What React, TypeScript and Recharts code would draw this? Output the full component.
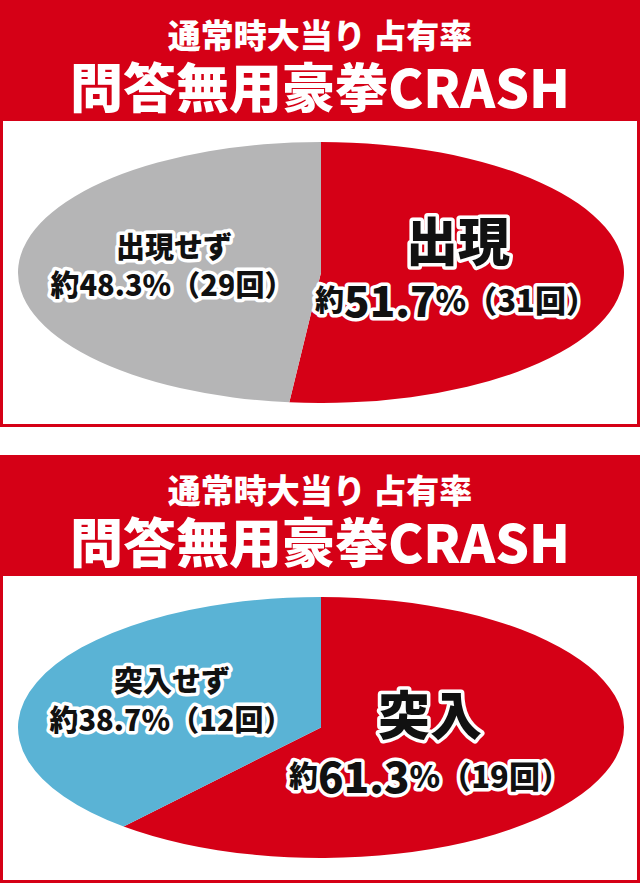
import { PieChart, Pie, Cell } from 'recharts';

const TITLE_SUB = '通常時大当り 占有率';
const TITLE_MAIN = '問答無用豪拳CRASH';

// panel 1: 出現 / 出現せず
const appearNames = ['出現', '出現せず'];
const appearCounts = [31, 29];
const appearColors = ['#D50016', '#B5B5B6'];

// panel 2: 突入 / 突入せず
const rushNames = ['突入', '突入せず'];
const rushCounts = [19, 12];
const rushColors = ['#D50016', '#5AB3D5'];

const RED = '#D50016';
const FONT = "'Noto Sans CJK JP', 'Noto Sans', sans-serif";

const PIE_SIZE = 606;
const ELLIPSE_H = 261;

const pct = (v: number, total: number) => ((v / total) * 100).toFixed(1);

type LabelPos = { big: [number, number]; bigPct: [number, number]; small: [number, number]; smallPct: [number, number] };

const outline = {
  stroke: '#fff',
  strokeWidth: 7,
  strokeLinejoin: 'round' as const,
  paintOrder: 'stroke' as const,
};

function Panel({
  top,
  height,
  names,
  counts,
  colors,
  pos,
}: {
  top: number;
  height: number;
  names: string[];
  counts: number[];
  colors: string[];
  pos: LabelPos;
}) {
  const data = names.map((name, i) => ({ name, value: counts[i] }));
  const total = counts.reduce((a, b) => a + b, 0);

  return (
    <div style={{ position: 'absolute', left: 0, top, width: 640, height, background: RED }}>
      <div style={{ position: 'absolute', left: 3, top: 121, width: 634, height: height - 124, background: '#fff' }} />
      {/* circular pie squashed into an ellipse */}
      <div
        style={{
          position: 'absolute',
          left: 18,
          top: 142,
          width: PIE_SIZE,
          height: PIE_SIZE,
          transform: `scaleY(${ELLIPSE_H / PIE_SIZE})`,
          transformOrigin: 'top left',
        }}
      >
        <PieChart width={PIE_SIZE} height={PIE_SIZE} margin={{ top: 0, right: 0, bottom: 0, left: 0 }}>
          <Pie
            data={data}
            dataKey="value"
            nameKey="name"
            cx="50%"
            cy="50%"
            outerRadius={PIE_SIZE / 2}
            startAngle={90}
            endAngle={-270}
            stroke="none"
            isAnimationActive={false}
          >
            {data.map((d, i) => (
              <Cell key={d.name} fill={colors[i]} />
            ))}
          </Pie>
        </PieChart>
      </div>
      <svg
        width={640}
        height={height}
        style={{ position: 'absolute', left: 0, top: 0, fontFamily: FONT, fontWeight: 900 }}
      >
        <text x={320} y={34} textAnchor="middle" dominantBaseline="central" fill="#fff" fontSize={33}>
          {TITLE_SUB}
        </text>
        <text x={320} y={85} textAnchor="middle" dominantBaseline="central" fill="#fff" fontSize={53}>
          {TITLE_MAIN}
        </text>

        <text x={pos.big[0]} y={pos.big[1]} textAnchor="middle" dominantBaseline="central" fill="#111" fontSize={52} {...outline}>
          {names[0]}
        </text>
        <text x={pos.bigPct[0]} y={pos.bigPct[1]} textAnchor="middle" dominantBaseline="central" fill="#111" {...outline}>
          <tspan fontSize={29}>約</tspan>
          <tspan fontSize={42}>{pct(counts[0], total)}</tspan>
          <tspan fontSize={31}>%（{counts[0]}回）</tspan>
        </text>

        <text x={pos.small[0]} y={pos.small[1]} textAnchor="middle" dominantBaseline="central" fill="#111" fontSize={29} {...outline}>
          {names[1]}
        </text>
        <text x={pos.smallPct[0]} y={pos.smallPct[1]} textAnchor="middle" dominantBaseline="central" fill="#111" fontSize={29} {...outline}>
          約{pct(counts[1], total)}%（{counts[1]}回）
        </text>
      </svg>
    </div>
  );
}

export default function App() {
  return (
    <div style={{ position: 'absolute', left: 0, top: 0, width: 640, height: 883, background: '#fff', overflow: 'hidden' }}>
      <Panel
        top={0}
        height={427}
        names={appearNames}
        counts={appearCounts}
        colors={appearColors}
        pos={{ big: [458, 238], bigPct: [456, 298], small: [174, 245], smallPct: [172, 283] }}
      />
      <Panel
        top={455}
        height={428}
        names={rushNames}
        counts={rushCounts}
        colors={rushColors}
        pos={{ big: [430, 257], bigPct: [430, 319], small: [172, 224], smallPct: [171, 263] }}
      />
    </div>
  );
}
